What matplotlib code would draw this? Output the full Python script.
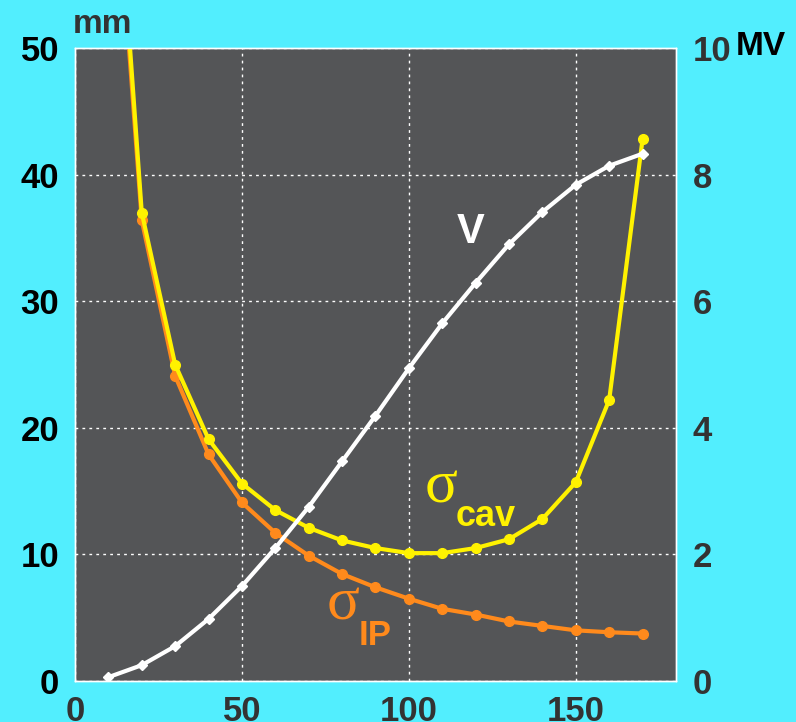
import matplotlib
matplotlib.use("Agg")
import matplotlib.pyplot as plt

# beam size along the line and accumulated voltage
z = [10, 20, 30, 40, 50, 60, 70, 80, 90, 100, 110, 120, 130, 140, 150, 160, 170]
sigmaCav = [74, 37.0, 25.0, 19.1, 15.6, 13.5, 12.1, 11.1, 10.5, 10.1, 10.1, 10.5, 11.2, 12.8, 15.7, 22.2, 42.8]
sigmaIP = [72, 36.4, 24.1, 17.9, 14.1, 11.7, 9.9, 8.45, 7.4, 6.5, 5.7, 5.25, 4.7, 4.35, 4.0, 3.85, 3.75]
voltage = [0.06, 0.25, 0.55, 0.98, 1.5, 2.1, 2.75, 3.47, 4.19, 4.94, 5.65, 6.29, 6.9, 7.41, 7.84, 8.14, 8.33]

xTicks = [0, 50, 100, 150]
mmTicks = [0, 10, 20, 30, 40, 50]
mvTicks = [0, 2, 4, 6, 8, 10]

bgColor = "#52EEFE"
plotColor = "#545557"
yellow = "#FFF200"
orange = "#FF8A1C"

plt.rcParams["font.family"] = ["Liberation Sans", "DejaVu Sans"]
plt.rcParams["font.weight"] = "bold"

fig = plt.figure(figsize=(7.96, 7.22), dpi=100, facecolor=bgColor)
ax = fig.add_axes([0.0942, 0.0568, 0.755, 0.8767])
ax.set_facecolor(plotColor)

ax.plot(z, sigmaIP, color=orange, lw=3, marker="o", ms=7, zorder=3)
ax.plot(z, sigmaCav, color=yellow, lw=3, marker="o", ms=7, zorder=4)

ax.set_xlim(0, 180)
ax.set_ylim(0, 50)
ax.set_xticks(xTicks)
ax.set_yticks(mmTicks)
ax.grid(True, color="white", linestyle=(0, (2, 3)), linewidth=1)
ax.tick_params(axis="x", length=0, pad=10, labelsize=25, labelcolor="#333333")
ax.tick_params(axis="y", length=0, pad=11.5, labelsize=25, labelcolor="black")
for side in ax.spines.values():
    side.set_color("white")
    side.set_linewidth(1)

ax2 = ax.twinx()
ax2.plot(z, voltage, color="white", lw=3, marker="D", ms=5, zorder=5)
ax2.set_ylim(0, 10)
ax2.set_yticks(mvTicks)
ax2.tick_params(axis="y", length=0, pad=12, labelsize=25, labelcolor="#333333")
for side in ax2.spines.values():
    side.set_color("white")
    side.set_linewidth(1)

# curve labels
ax.text(118.5, 35.5, "V", color="white", fontsize=30, ha="center", va="center", zorder=6)
ax.text(109.5, 15.3, "σ", color=yellow, fontsize=44, family="Liberation Serif",
        weight="normal", ha="center", va="center", zorder=6)
ax.text(123, 13.0, "cav", color=yellow, fontsize=26, ha="center", va="center", zorder=6)
ax.text(80.4, 6.0, "σ", color=orange, fontsize=44, family="Liberation Serif",
        weight="normal", ha="center", va="center", zorder=6)
ax.text(90, 3.6, "IP", color=orange, fontsize=25, ha="center", va="center", zorder=6)

# units
fig.text(73 / 796, 1 - 33 / 722, "mm", color="#333333", fontsize=24, ha="left", va="baseline")
fig.text(736 / 796, 1 - 55 / 722, "MV", color="black", fontsize=24, ha="left", va="baseline")

fig.savefig("out.png", dpi=100, facecolor=bgColor)
